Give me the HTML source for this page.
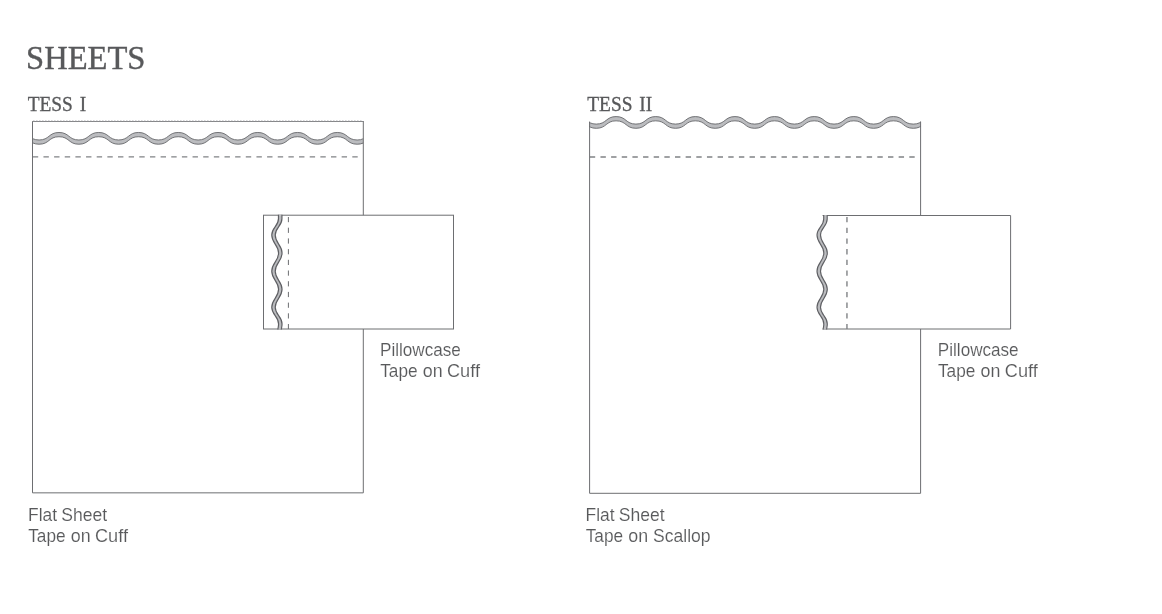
<!DOCTYPE html>
<html>
<head>
<meta charset="utf-8">
<title>Sheets</title>
<style>
html,body{margin:0;padding:0;background:#fff;}
body{width:1162px;height:614px;overflow:hidden;position:relative;}
svg{position:absolute;left:0;top:0;display:block;will-change:transform;}
.serif{font-family:"Liberation Serif",serif;fill:#58595b;}
.sans{font-family:"Liberation Sans",sans-serif;fill:#58595b;font-size:17px;stroke:#fff;stroke-width:0.12px;}
</style>
</head>
<body>
<svg width="1162" height="614" viewBox="0 0 1162 614">
<defs>
<clipPath id="c1"><rect x="32.5" y="122" width="330.8" height="40"/></clipPath>
<clipPath id="c2"><rect x="589.1" y="110" width="332" height="40"/></clipPath>
<clipPath id="c3"><rect x="260" y="214.7" width="40" height="114.8"/></clipPath>
<clipPath id="c4"><rect x="805" y="215" width="40" height="114.5"/></clipPath>
</defs>
<rect width="1162" height="614" fill="#fff"/>

<text class="serif" font-size="32" stroke="#58595b" stroke-width="0.4" transform="translate(26.06 69.2) scale(1.0177 1.05)">SHEETS</text>
<text class="serif" font-size="19.6" word-spacing="2" stroke="#58595b" stroke-width="0.3" transform="translate(27.7 111) scale(0.988 1.05)">TESS I</text>
<text class="serif" font-size="19.6" word-spacing="2" stroke="#58595b" stroke-width="0.3" transform="translate(587.3 111) scale(0.988 1.05)">TESS II</text>

<!-- TESS I flat sheet -->
<g clip-path="url(#c1)"><path d="M19.22,132.47 C29.56,132.47 28.76,139.97 39.10,139.97 C49.44,139.97 48.64,132.47 58.98,132.47 C69.32,132.47 68.52,139.97 78.86,139.97 C89.20,139.97 88.40,132.47 98.74,132.47 C109.08,132.47 108.28,139.97 118.62,139.97 C128.96,139.97 128.16,132.47 138.50,132.47 C148.84,132.47 148.04,139.97 158.38,139.97 C168.72,139.97 167.92,132.47 178.26,132.47 C188.60,132.47 187.80,139.97 198.14,139.97 C208.48,139.97 207.68,132.47 218.02,132.47 C228.36,132.47 227.56,139.97 237.90,139.97 C248.24,139.97 247.44,132.47 257.78,132.47 C268.12,132.47 267.32,139.97 277.66,139.97 C288.00,139.97 287.20,132.47 297.54,132.47 C307.88,132.47 307.08,139.97 317.42,139.97 C327.76,139.97 326.96,132.47 337.30,132.47 C347.64,132.47 346.84,139.97 357.18,139.97 C367.52,139.97 366.72,132.47 377.06,132.47 L377.06,136.72 C366.72,136.72 367.52,144.22 357.18,144.22 C346.84,144.22 347.64,136.72 337.30,136.72 C326.96,136.72 327.76,144.22 317.42,144.22 C307.08,144.22 307.88,136.72 297.54,136.72 C287.20,136.72 288.00,144.22 277.66,144.22 C267.32,144.22 268.12,136.72 257.78,136.72 C247.44,136.72 248.24,144.22 237.90,144.22 C227.56,144.22 228.36,136.72 218.02,136.72 C207.68,136.72 208.48,144.22 198.14,144.22 C187.80,144.22 188.60,136.72 178.26,136.72 C167.92,136.72 168.72,144.22 158.38,144.22 C148.04,144.22 148.84,136.72 138.50,136.72 C128.16,136.72 128.96,144.22 118.62,144.22 C108.28,144.22 109.08,136.72 98.74,136.72 C88.40,136.72 89.20,144.22 78.86,144.22 C68.52,144.22 69.32,136.72 58.98,136.72 C48.64,136.72 49.44,144.22 39.10,144.22 C28.76,144.22 29.56,136.72 19.22,136.72 Z" fill="#bbbcbf"/><path d="M19.22,132.47 C29.56,132.47 28.76,139.97 39.10,139.97 C49.44,139.97 48.64,132.47 58.98,132.47 C69.32,132.47 68.52,139.97 78.86,139.97 C89.20,139.97 88.40,132.47 98.74,132.47 C109.08,132.47 108.28,139.97 118.62,139.97 C128.96,139.97 128.16,132.47 138.50,132.47 C148.84,132.47 148.04,139.97 158.38,139.97 C168.72,139.97 167.92,132.47 178.26,132.47 C188.60,132.47 187.80,139.97 198.14,139.97 C208.48,139.97 207.68,132.47 218.02,132.47 C228.36,132.47 227.56,139.97 237.90,139.97 C248.24,139.97 247.44,132.47 257.78,132.47 C268.12,132.47 267.32,139.97 277.66,139.97 C288.00,139.97 287.20,132.47 297.54,132.47 C307.88,132.47 307.08,139.97 317.42,139.97 C327.76,139.97 326.96,132.47 337.30,132.47 C347.64,132.47 346.84,139.97 357.18,139.97 C367.52,139.97 366.72,132.47 377.06,132.47" fill="none" stroke="#5f6063" stroke-width="0.85"/><path d="M19.22,136.72 C29.56,136.72 28.76,144.22 39.10,144.22 C49.44,144.22 48.64,136.72 58.98,136.72 C69.32,136.72 68.52,144.22 78.86,144.22 C89.20,144.22 88.40,136.72 98.74,136.72 C109.08,136.72 108.28,144.22 118.62,144.22 C128.96,144.22 128.16,136.72 138.50,136.72 C148.84,136.72 148.04,144.22 158.38,144.22 C168.72,144.22 167.92,136.72 178.26,136.72 C188.60,136.72 187.80,144.22 198.14,144.22 C208.48,144.22 207.68,136.72 218.02,136.72 C228.36,136.72 227.56,144.22 237.90,144.22 C248.24,144.22 247.44,136.72 257.78,136.72 C268.12,136.72 267.32,144.22 277.66,144.22 C288.00,144.22 287.20,136.72 297.54,136.72 C307.88,136.72 307.08,144.22 317.42,144.22 C327.76,144.22 326.96,136.72 337.30,136.72 C347.64,136.72 346.84,144.22 357.18,144.22 C367.52,144.22 366.72,136.72 377.06,136.72" fill="none" stroke="#5f6063" stroke-width="0.85"/></g>
<line x1="32.8" y1="156.9" x2="357.8" y2="156.9" stroke="#808285" stroke-width="1.3" stroke-dasharray="5.4 5.25"/>
<path d="M32.5,121 V492.85 H363.3 V121" fill="none" stroke="#6d6e71" stroke-width="1"/>
<line x1="32" y1="121.5" x2="363.8" y2="121.5" stroke="#858689" stroke-width="1"/>
<line x1="33" y1="120.6" x2="363" y2="120.6" stroke="#c6c7c9" stroke-width="0.8" stroke-dasharray="1.6 1.4"/>

<!-- TESS I pillowcase -->
<rect x="263.5" y="215.2" width="190" height="113.8" fill="#fff" stroke="#6d6e71" stroke-width="1"/>
<line x1="288.4" y1="217" x2="288.4" y2="329" stroke="#6d6e71" stroke-width="1" stroke-dasharray="5.2 5.5"/>
<g clip-path="url(#c3)"><path d="M278.47,212.20 C278.47,215.19 278.47,215.71 278.47,218.70 C278.47,226.24 271.77,227.56 271.77,235.10 C271.77,243.33 278.57,244.77 278.57,253.00 C278.57,261.42 271.77,262.88 271.77,271.30 C271.77,279.58 278.57,281.02 278.57,289.30 C278.57,297.58 271.77,299.02 271.77,307.30 C271.77,314.98 278.57,316.32 278.57,324.00 C278.57,326.99 277.88,327.51 277.88,330.50 L281.33,330.50 C281.33,327.51 282.03,326.99 282.03,324.00 C282.03,316.32 275.23,314.98 275.23,307.30 C275.23,299.02 282.03,297.58 282.03,289.30 C282.03,281.02 275.23,279.58 275.23,271.30 C275.23,262.88 282.03,261.42 282.03,253.00 C282.03,244.77 275.23,243.33 275.23,235.10 C275.23,227.56 281.93,226.24 281.93,218.70 C281.93,215.71 281.93,215.19 281.93,212.20 Z" fill="#bbbcbf"/><path d="M278.47,212.20 C278.47,215.19 278.47,215.71 278.47,218.70 C278.47,226.24 271.77,227.56 271.77,235.10 C271.77,243.33 278.57,244.77 278.57,253.00 C278.57,261.42 271.77,262.88 271.77,271.30 C271.77,279.58 278.57,281.02 278.57,289.30 C278.57,297.58 271.77,299.02 271.77,307.30 C271.77,314.98 278.57,316.32 278.57,324.00 C278.57,326.99 277.88,327.51 277.88,330.50" fill="none" stroke="#5e5f63" stroke-width="1.2"/><path d="M281.93,212.20 C281.93,215.19 281.93,215.71 281.93,218.70 C281.93,226.24 275.23,227.56 275.23,235.10 C275.23,243.33 282.03,244.77 282.03,253.00 C282.03,261.42 275.23,262.88 275.23,271.30 C275.23,279.58 282.03,281.02 282.03,289.30 C282.03,297.58 275.23,299.02 275.23,307.30 C275.23,314.98 282.03,316.32 282.03,324.00 C282.03,326.99 281.33,327.51 281.33,330.50" fill="none" stroke="#5e5f63" stroke-width="1.2"/></g>

<text class="sans" transform="translate(0 355.7) scale(1 1.05)"><tspan x="380.03" textLength="80.83" lengthAdjust="spacingAndGlyphs">Pillowcase</tspan></text>
<text class="sans" transform="translate(0 376.8) scale(1 1.05)"><tspan x="380.17" textLength="37.41" lengthAdjust="spacingAndGlyphs">Tape</tspan> <tspan x="422.83" textLength="19.84" lengthAdjust="spacingAndGlyphs">on</tspan> <tspan x="446.97" textLength="33.00" lengthAdjust="spacingAndGlyphs">Cuff</tspan></text>
<text class="sans" transform="translate(0 520.8) scale(1 1.05)"><tspan x="28.01" textLength="29.04" lengthAdjust="spacingAndGlyphs">Flat</tspan> <tspan x="61.27" textLength="45.89" lengthAdjust="spacingAndGlyphs">Sheet</tspan></text>
<text class="sans" transform="translate(0 541.65) scale(1 1.05)"><tspan x="28.17" textLength="37.41" lengthAdjust="spacingAndGlyphs">Tape</tspan> <tspan x="70.83" textLength="19.84" lengthAdjust="spacingAndGlyphs">on</tspan> <tspan x="94.97" textLength="33.00" lengthAdjust="spacingAndGlyphs">Cuff</tspan></text>

<!-- TESS II flat sheet -->
<g clip-path="url(#c2)"><path d="M576.49,116.58 C586.79,116.58 586.00,124.08 596.30,124.08 C606.60,124.08 605.81,116.58 616.11,116.58 C626.41,116.58 625.62,124.08 635.92,124.08 C646.22,124.08 645.43,116.58 655.73,116.58 C666.03,116.58 665.24,124.08 675.54,124.08 C685.84,124.08 685.05,116.58 695.35,116.58 C705.65,116.58 704.86,124.08 715.16,124.08 C725.46,124.08 724.67,116.58 734.97,116.58 C745.27,116.58 744.48,124.08 754.78,124.08 C765.08,124.08 764.29,116.58 774.59,116.58 C784.89,116.58 784.10,124.08 794.40,124.08 C804.70,124.08 803.91,116.58 814.21,116.58 C824.51,116.58 823.72,124.08 834.02,124.08 C844.32,124.08 843.53,116.58 853.83,116.58 C864.13,116.58 863.34,124.08 873.64,124.08 C883.94,124.08 883.15,116.58 893.45,116.58 C903.75,116.58 902.96,124.08 913.26,124.08 C923.56,124.08 922.77,116.58 933.07,116.58 L933.07,120.83 C922.77,120.83 923.56,128.32 913.26,128.32 C902.96,128.32 903.75,120.83 893.45,120.83 C883.15,120.83 883.94,128.32 873.64,128.32 C863.34,128.32 864.13,120.83 853.83,120.83 C843.53,120.83 844.32,128.32 834.02,128.32 C823.72,128.32 824.51,120.83 814.21,120.83 C803.91,120.83 804.70,128.32 794.40,128.32 C784.10,128.32 784.89,120.83 774.59,120.83 C764.29,120.83 765.08,128.32 754.78,128.32 C744.48,128.32 745.27,120.83 734.97,120.83 C724.67,120.83 725.46,128.32 715.16,128.32 C704.86,128.32 705.65,120.83 695.35,120.83 C685.05,120.83 685.84,128.32 675.54,128.32 C665.24,128.32 666.03,120.83 655.73,120.83 C645.43,120.83 646.22,128.32 635.92,128.32 C625.62,128.32 626.41,120.83 616.11,120.83 C605.81,120.83 606.60,128.32 596.30,128.32 C586.00,128.32 586.79,120.83 576.49,120.83 Z" fill="#bbbcbf"/><path d="M576.49,116.58 C586.79,116.58 586.00,124.08 596.30,124.08 C606.60,124.08 605.81,116.58 616.11,116.58 C626.41,116.58 625.62,124.08 635.92,124.08 C646.22,124.08 645.43,116.58 655.73,116.58 C666.03,116.58 665.24,124.08 675.54,124.08 C685.84,124.08 685.05,116.58 695.35,116.58 C705.65,116.58 704.86,124.08 715.16,124.08 C725.46,124.08 724.67,116.58 734.97,116.58 C745.27,116.58 744.48,124.08 754.78,124.08 C765.08,124.08 764.29,116.58 774.59,116.58 C784.89,116.58 784.10,124.08 794.40,124.08 C804.70,124.08 803.91,116.58 814.21,116.58 C824.51,116.58 823.72,124.08 834.02,124.08 C844.32,124.08 843.53,116.58 853.83,116.58 C864.13,116.58 863.34,124.08 873.64,124.08 C883.94,124.08 883.15,116.58 893.45,116.58 C903.75,116.58 902.96,124.08 913.26,124.08 C923.56,124.08 922.77,116.58 933.07,116.58" fill="none" stroke="#5f6063" stroke-width="0.85"/><path d="M576.49,120.83 C586.79,120.83 586.00,128.32 596.30,128.32 C606.60,128.32 605.81,120.83 616.11,120.83 C626.41,120.83 625.62,128.32 635.92,128.32 C646.22,128.32 645.43,120.83 655.73,120.83 C666.03,120.83 665.24,128.32 675.54,128.32 C685.84,128.32 685.05,120.83 695.35,120.83 C705.65,120.83 704.86,128.32 715.16,128.32 C725.46,128.32 724.67,120.83 734.97,120.83 C745.27,120.83 744.48,128.32 754.78,128.32 C765.08,128.32 764.29,120.83 774.59,120.83 C784.89,120.83 784.10,128.32 794.40,128.32 C804.70,128.32 803.91,120.83 814.21,120.83 C824.51,120.83 823.72,128.32 834.02,128.32 C844.32,128.32 843.53,120.83 853.83,120.83 C864.13,120.83 863.34,128.32 873.64,128.32 C883.94,128.32 883.15,120.83 893.45,120.83 C903.75,120.83 902.96,128.32 913.26,128.32 C923.56,128.32 922.77,120.83 933.07,120.83" fill="none" stroke="#5f6063" stroke-width="0.85"/></g>
<line x1="589.8" y1="157" x2="915.3" y2="157" stroke="#808285" stroke-width="1.3" stroke-dasharray="5.4 5.25"/>
<path d="M589.6,121.6 V493.3 H920.6 V121.6" fill="none" stroke="#6d6e71" stroke-width="1"/>

<!-- TESS II pillowcase -->
<rect x="822" y="215.5" width="188.6" height="113.5" fill="#fff"/>
<path d="M822.6,215.5 H1010.6 V329 H822.6" fill="none" stroke="#6d6e71" stroke-width="1"/>
<line x1="846.95" y1="217" x2="846.95" y2="329" stroke="#808285" stroke-width="1.4" stroke-dasharray="5.3 5.4"/>
<g clip-path="url(#c4)"><path d="M823.70,212.50 C823.70,215.49 823.70,216.01 823.70,219.00 C823.70,226.41 817.00,227.69 817.00,235.10 C817.00,243.33 823.80,244.77 823.80,253.00 C823.80,261.42 817.00,262.88 817.00,271.30 C817.00,279.58 823.80,281.02 823.80,289.30 C823.80,297.58 817.00,299.02 817.00,307.30 C817.00,314.98 823.80,316.32 823.80,324.00 C823.80,326.99 823.10,327.51 823.10,330.50 L826.60,330.50 C826.60,327.51 827.30,326.99 827.30,324.00 C827.30,316.32 820.50,314.98 820.50,307.30 C820.50,299.02 827.30,297.58 827.30,289.30 C827.30,281.02 820.50,279.58 820.50,271.30 C820.50,262.88 827.30,261.42 827.30,253.00 C827.30,244.77 820.50,243.33 820.50,235.10 C820.50,227.69 827.20,226.41 827.20,219.00 C827.20,216.01 827.20,215.49 827.20,212.50 Z" fill="#bbbcbf"/><path d="M823.70,212.50 C823.70,215.49 823.70,216.01 823.70,219.00 C823.70,226.41 817.00,227.69 817.00,235.10 C817.00,243.33 823.80,244.77 823.80,253.00 C823.80,261.42 817.00,262.88 817.00,271.30 C817.00,279.58 823.80,281.02 823.80,289.30 C823.80,297.58 817.00,299.02 817.00,307.30 C817.00,314.98 823.80,316.32 823.80,324.00 C823.80,326.99 823.10,327.51 823.10,330.50" fill="none" stroke="#606165" stroke-width="1.15"/><path d="M827.20,212.50 C827.20,215.49 827.20,216.01 827.20,219.00 C827.20,226.41 820.50,227.69 820.50,235.10 C820.50,243.33 827.30,244.77 827.30,253.00 C827.30,261.42 820.50,262.88 820.50,271.30 C820.50,279.58 827.30,281.02 827.30,289.30 C827.30,297.58 820.50,299.02 820.50,307.30 C820.50,314.98 827.30,316.32 827.30,324.00 C827.30,326.99 826.60,327.51 826.60,330.50" fill="none" stroke="#606165" stroke-width="1.15"/></g>

<text class="sans" transform="translate(0 355.7) scale(1 1.05)"><tspan x="937.83" textLength="80.83" lengthAdjust="spacingAndGlyphs">Pillowcase</tspan></text>
<text class="sans" transform="translate(0 376.8) scale(1 1.05)"><tspan x="937.97" textLength="37.41" lengthAdjust="spacingAndGlyphs">Tape</tspan> <tspan x="980.63" textLength="19.84" lengthAdjust="spacingAndGlyphs">on</tspan> <tspan x="1004.77" textLength="33.00" lengthAdjust="spacingAndGlyphs">Cuff</tspan></text>
<text class="sans" transform="translate(0 520.8) scale(1 1.05)"><tspan x="585.51" textLength="29.04" lengthAdjust="spacingAndGlyphs">Flat</tspan> <tspan x="618.77" textLength="45.89" lengthAdjust="spacingAndGlyphs">Sheet</tspan></text>
<text class="sans" transform="translate(0 541.65) scale(1 1.05)"><tspan x="585.67" textLength="37.41" lengthAdjust="spacingAndGlyphs">Tape</tspan> <tspan x="628.33" textLength="19.84" lengthAdjust="spacingAndGlyphs">on</tspan> <tspan x="652.97" textLength="57.63" lengthAdjust="spacingAndGlyphs">Scallop</tspan></text>
</svg>
</body>
</html>
